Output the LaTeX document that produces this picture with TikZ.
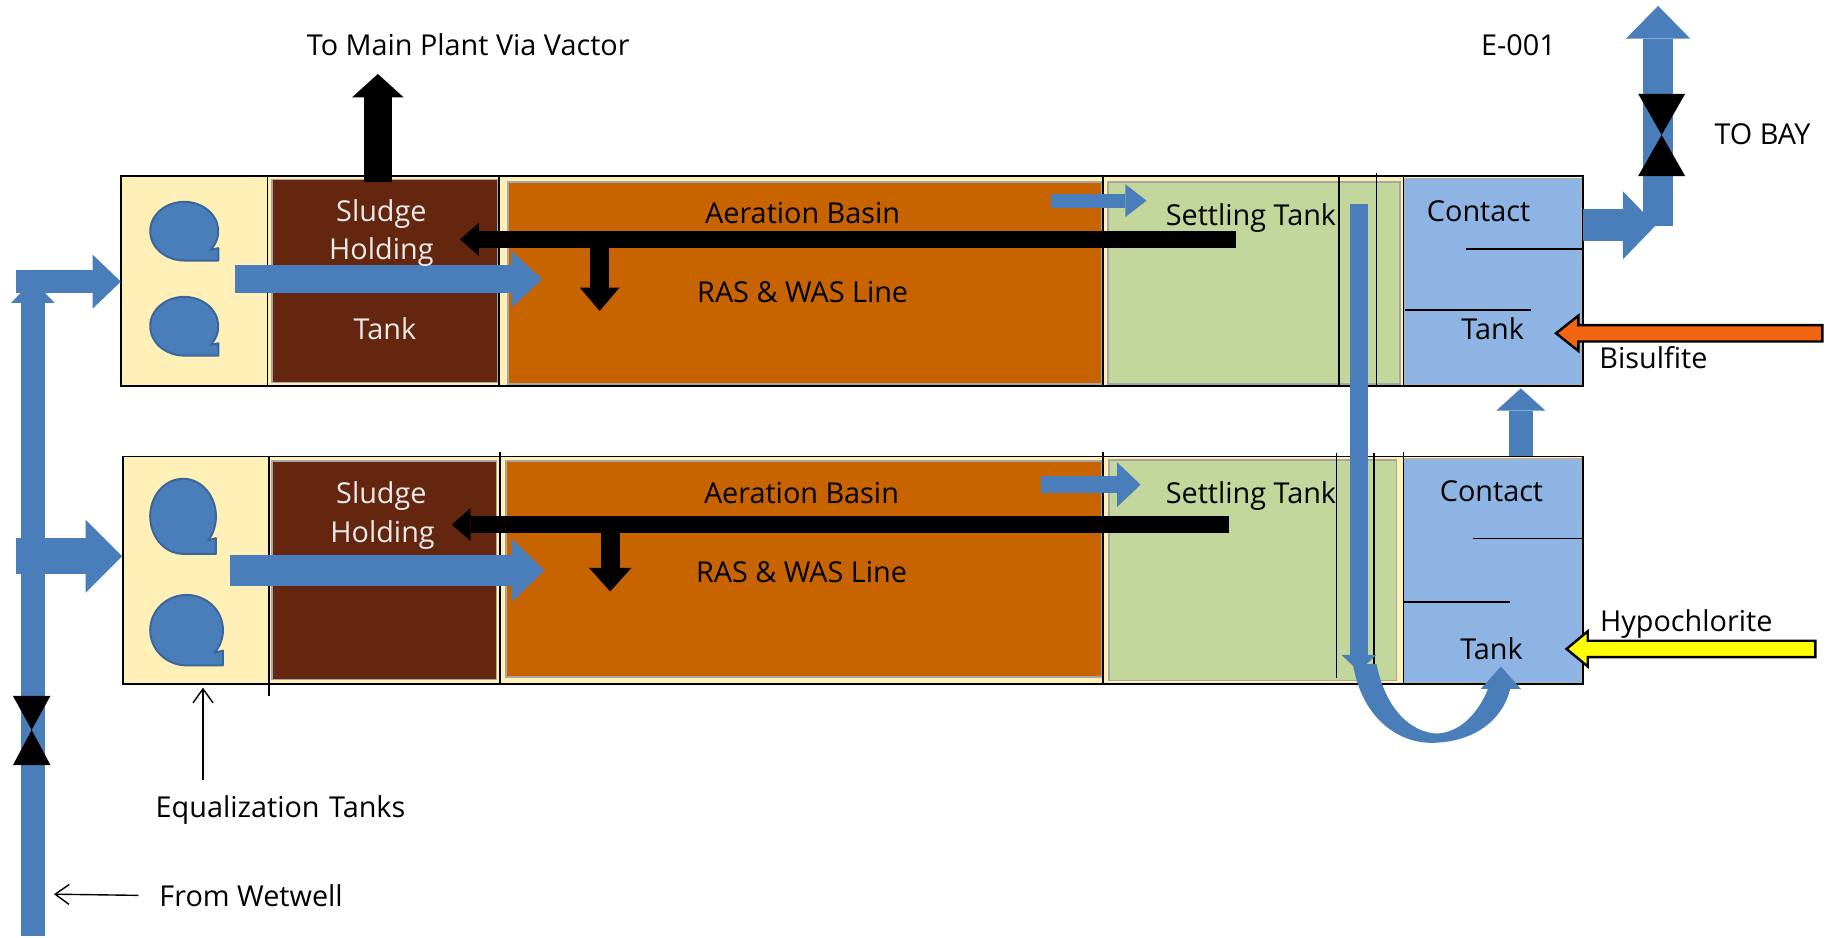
\documentclass[tikz,border=0pt]{standalone}
\usepackage{fontspec}
\setmainfont{Open Sans}
\usetikzlibrary{arrows.meta}

\definecolor{creamfill}{HTML}{FFF0B8}
\definecolor{sludgefill}{HTML}{652610}
\definecolor{aerationfill}{HTML}{C86400}
\definecolor{settlingfill}{HTML}{C3D69B}
\definecolor{contactfill}{HTML}{8EB4E3}
\definecolor{pipeblue}{HTML}{4A7EBB}
\definecolor{pipeedge}{HTML}{3A6699}
\definecolor{bisulfitefill}{HTML}{F26510}
\definecolor{hypofill}{HTML}{FFFF00}

\def\unitlen{0.5867pt}

\tikzset{
	blockarrow/.style n args = {3}{line width = #1*\unitlen, -{Triangle[length = #2*\unitlen, width = #3*\unitlen, line width = 0pt]}},
	pipe/.style = {draw = pipeblue},
	blackpipe/.style = {draw = black},
	tankwall/.style = {draw = black, line width = 0.8pt},
	innerfill/.style = {draw = black!35, line width = 0.8pt},
	label/.style = {font = \fontsize{14.4}{16}\selectfont, inner sep = 0pt, text = black, text height = 13pt, text depth = 2pt},
	whitelabel/.style = {label, text = white!92!black},
	chemline/.style = {draw = black, line width = 1.2pt, line join = miter},
	leader/.style = {draw = black, line width = 0.7pt, -{Straight Barb[length = 7pt, width = 10pt]}},
	eqshape/.style = {fill = pipeblue, draw = pipeedge, line width = 1pt, line join = round}
}

% equalization tank: centre x, centre y, x radius, y radius
\newcommand{\eqtank}[4]{
	\draw [eqshape] (#1,#2) ++(40:#3 and #4) arc [start angle = 40, end angle = -270, x radius = #3, y radius = #4]
		-- ++(#3,0) -- ++(0,-0.42*#4) -- cycle;
}

\begin{document}
\begin{tikzpicture}[x = \unitlen, y = -\unitlen]
		\useasboundingbox (0,0) rectangle (1568,798.5);
		
		% named ends of the block arrows
		\coordinate (feedin) at (28,798);
		\coordinate (feedtop) at (28,239);
		\coordinate (inonestart) at (14,240);
		\coordinate (inoneend) at (103,240);
		\coordinate (intwostart) at (14,474);
		\coordinate (intwoend) at (104,474);
		\coordinate (eqonestart) at (200,238);
		\coordinate (eqoneend) at (462,238);
		\coordinate (eqtwostart) at (196,486);
		\coordinate (eqtwoend) at (464,486);
		\coordinate (vactorstart) at (322,155);
		\coordinate (vactorend) at (322,63);
		\coordinate (rasonestart) at (1053,204);
		\coordinate (rasoneend) at (392,204);
		\coordinate (wasonestart) at (511,204);
		\coordinate (wasoneend) at (511,265);
		\coordinate (rastwostart) at (1047,447);
		\coordinate (rastwoend) at (385,447);
		\coordinate (wastwostart) at (520,447);
		\coordinate (wastwoend) at (520,504);
		\coordinate (setonestart) at (896,171);
		\coordinate (setoneend) at (977,171);
		\coordinate (settwostart) at (887,413);
		\coordinate (settwoend) at (972,413);
		\coordinate (downstart) at (1158,174);
		\coordinate (downend) at (1158,572);
		\coordinate (upstart) at (1296,389);
		\coordinate (upend) at (1296,331);
		\coordinate (outstart) at (1349,192);
		\coordinate (outend) at (1411,192);
		\coordinate (baystart) at (1413,193);
		\coordinate (bayend) at (1413,5);
		
		% top train
		\begin{scope}
			\fill [creamfill] (103,150) rectangle (1349,329);
			\fill [sludgefill, innerfill] (232,153) rectangle (424,326);
			\fill [aerationfill, innerfill] (433,155) rectangle (939,327);
			\fill [settlingfill, innerfill] (944,155) rectangle (1193,327);
			\fill [contactfill, draw = black!30, line width = 0.8pt] (1197,152) rectangle (1348,328);
			\draw [tankwall] (103,150) rectangle (1349,329);
			\foreach \wallx in {228,425,940,1141,1196}
				\draw [tankwall] (\wallx,150) -- (\wallx,329);
			\draw [tankwall] (1173,147) -- (1173,329);
			\draw [tankwall] (1249,212) -- (1349,212);
			\draw [tankwall] (1197,264) -- (1305,264);
		\end{scope}
		
		% bottom train
		\begin{scope}
			\fill [creamfill] (105,389) rectangle (1349,583);
			\fill [sludgefill, innerfill] (232,393) rectangle (423,579);
			\fill [aerationfill, innerfill] (431,393) rectangle (939,577);
			\fill [settlingfill, innerfill] (945,392) rectangle (1190,580);
			\fill [contactfill, draw = black!30, line width = 0.8pt] (1196,391) rectangle (1348,582);
			\draw [tankwall] (105,389) rectangle (1349,583);
			\draw [tankwall] (229,389) -- (229,593);
			\foreach \wallx in {426,940,1196}
				\draw [tankwall] (\wallx,385) -- (\wallx,583);
			\draw [tankwall] (1139,386) -- (1139,578);
			\draw [tankwall] (1171,386) -- (1171,568);
			\draw [tankwall] (1255,459) -- (1349,459);
			\draw [tankwall] (1196,513) -- (1287,513);
		\end{scope}
		
		% equalization tanks
		\eqtank{157}{197}{29}{25}
		\eqtank{157}{278}{29}{25}
		\eqtank{156}{440}{28}{32}
		\eqtank{159}{537}{31}{30}
		
		% blue lines
		\begin{scope}
			\draw [pipe, blockarrow = {20}{24}{46}] (inonestart) -- (inoneend);
			\draw [pipe, blockarrow = {31}{31}{62}] (intwostart) -- (intwoend);
			\draw [pipe, blockarrow = {20}{19}{37}] (feedin) -- (feedtop);
			\draw [pipe, blockarrow = {24}{26}{48}] (eqonestart) -- (eqoneend);
			\draw [pipe, blockarrow = {26}{28}{54}] (eqtwostart) -- (eqtwoend);
			\draw [pipe, blockarrow = {12}{18}{28}] (setonestart) -- (setoneend);
			\draw [pipe, blockarrow = {15}{20}{38}] (settwostart) -- (settwoend);
			\draw [pipe, blockarrow = {16}{14}{30}] (downstart) -- (downend);
			\draw [pipe, blockarrow = {20}{19}{42}] (upstart) -- (upend);
			\draw [pipe, blockarrow = {27}{28}{58}] (outstart) -- (outend);
			\draw [pipe, blockarrow = {26}{28}{55}] (baystart) -- (bayend);
			% return bend under the settling tank
			\fill [pipeblue] (1153,566) .. controls (1160,610) and (1190,634) .. (1222,633)
				.. controls (1255,632) and (1280,615) .. (1287,587) -- (1296,587) -- (1279,568) -- (1262,587) -- (1268,587)
				.. controls (1258,612) and (1240,626) .. (1222,625) .. controls (1198,622) and (1180,600) .. (1173,566) -- cycle;
		\end{scope}
		
		% black lines
		\begin{scope}
			\draw [blackpipe, blockarrow = {24}{20}{44}] (vactorstart) -- (vactorend);
			\draw [blackpipe, blockarrow = {14}{16}{28}] (rasonestart) -- (rasoneend);
			\draw [blackpipe, blockarrow = {16}{20}{34}] (wasonestart) -- (wasoneend);
			\draw [blackpipe, blockarrow = {14}{16}{28}] (rastwostart) -- (rastwoend);
			\draw [blackpipe, blockarrow = {16}{20}{36}] (wastwostart) -- (wastwoend);
		\end{scope}
		
		% valves
		\fill [black] (1396,80) -- (1436,80) -- (1416,115) -- (1436,150) -- (1396,150) -- (1416,115) -- cycle;
		\fill [black] (11,593) -- (43,593) -- (27,622) -- (43,652) -- (11,652) -- (27,622) -- cycle;
		
		% chemical feeds
		\draw [chemline, fill = bisulfitefill] (1553,277) -- (1345,277) -- (1345,269) -- (1326,284) -- (1345,299) -- (1345,291) -- (1553,291) -- cycle;
		\draw [chemline, fill = hypofill] (1547,546) -- (1353,546) -- (1353,538) -- (1335,553) -- (1353,568) -- (1353,560) -- (1547,560) -- cycle;
		
		% labels
		\begin{scope}
			\node [label] (vactorlabel) at (399,38) {To Main Plant Via Vactor};
			\node [label] (outfalllabel) at (1294,38) {E-001};
			\node [label] (baylabel) at (1502,114) {TO BAY};
			\node [whitelabel] (sludgeone) at (325,179) {Sludge};
			\node [whitelabel] (holdingone) at (325,212) {Holding};
			\node [whitelabel] (tankone) at (328,280) {Tank};
			\node [label] (aerationone) at (684,181) {Aeration Basin};
			\node [label] (rasone) at (684,248) {RAS \& WAS Line};
			\node [label] (settlingone) at (1066,183) {Settling Tank};
			\node [label] (contactone) at (1260,179) {Contact};
			\node [label] (contacttankone) at (1272,280) {Tank};
			\node [label] (bisulfitelabel) at (1409,305) {Bisulfite};
			\node [whitelabel] (sludgetwo) at (325,420) {Sludge};
			\node [whitelabel] (holdingtwo) at (326,453) {Holding};
			\node [label] (aerationtwo) at (683,420) {Aeration Basin};
			\node [label] (rastwo) at (683,487) {RAS \& WAS Line};
			\node [label] (settlingtwo) at (1066,420) {Settling Tank};
			\node [label] (contacttwo) at (1271,418) {Contact};
			\node [label] (contacttanktwo) at (1271,553) {Tank};
			\node [label] (hypolabel) at (1437,529) {Hypochlorite};
			\node [label] (eqlabel) at (239,687) {Equalization\hspace{1pt} Tanks};
			\node [label] (wetwelllabel) at (214,763) {From Wetwell};
		\end{scope}
		
		% leaders
		\coordinate (eqpoint) at (173,586);
		\coordinate (eqtail) at (173,665);
		\coordinate (wetpoint) at (46,762);
		\coordinate (wettail) at (118,763);
		\draw [leader] (eqtail) -- (eqpoint);
		\draw [leader] (wettail) -- (wetpoint);
	\end{tikzpicture}
\end{document}
